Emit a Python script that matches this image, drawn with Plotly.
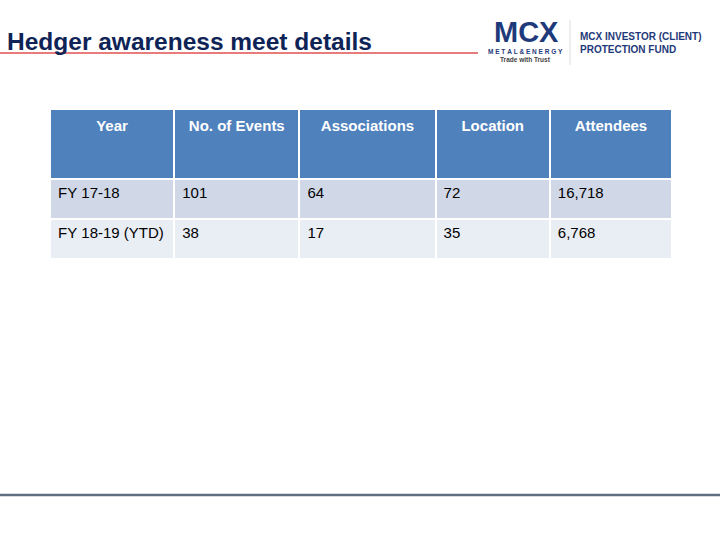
import plotly.graph_objects as go

# table contents
headers = ["Year", "No. of Events", "Associations", "Location", "Attendees"]
years = ["FY 17-18", "FY 18-19 (YTD)"]
events = [101, 38]
associations = [64, 17]
locations = [72, 35]
attendees = ["16,718", "6,768"]

W, H = 720, 540
col_widths = [124, 125, 136, 114, 122]
row_fills = ["#d0d8e8", "#e9edf4"]
font = "Liberation Sans, Arial"
nb = "\u00a0"

fig = go.Figure()

fig.add_trace(go.Table(
    domain=dict(x=[50 / W, 672 / W], y=[1 - 262 / H, 1 - 109 / H]),
    columnwidth=col_widths,
    header=dict(
        values=["<b>%s</b>" % h for h in headers],
        fill_color="#4f81bd",
        line=dict(color="white", width=2),
        align="center",
        height=70,
        font=dict(family=font, size=15, color="white"),
    ),
    cells=dict(
        values=[[y.replace(" ", nb) for y in years], events, associations, locations, attendees],
        fill_color=[row_fills],
        line=dict(color="white", width=2),
        align="left",
        height=40,
        font=dict(family=font, size=15, color="black"),
    ),
))

# title with red underline
fig.add_annotation(x=5 / W, y=1 - 42 / H, xref="paper", yref="paper",
                   text="<b>Hedger awareness meet details</b>", showarrow=False,
                   xanchor="left", yanchor="middle",
                   font=dict(family=font, size=24.5, color="#0e2356"))
fig.add_shape(type="line", xref="paper", yref="paper",
              x0=0, x1=478 / W, y0=1 - 53 / H, y1=1 - 53 / H,
              line=dict(color="#e05050", width=1.5))

# logo block
fig.add_annotation(x=526 / W, y=1 - 32 / H, xref="paper", yref="paper",
                   text="<b>MCX</b>", showarrow=False, xanchor="center", yanchor="middle",
                   borderpad=0, font=dict(family=font, size=29, color="#1f3a7a"))
fig.add_annotation(x=525 / W, y=1 - 51 / H, xref="paper", yref="paper",
                   text="<b>" + nb.join("METAL") + nb + "&amp;" + nb + nb.join("ENERGY") + "</b>",
                   showarrow=False, xanchor="center", yanchor="middle", borderpad=0,
                   font=dict(family=font, size=6.5, color="#1f3a7a"))
fig.add_annotation(x=525 / W, y=1 - 59 / H, xref="paper", yref="paper",
                   text="<b>Trade with Trust</b>", showarrow=False, xanchor="center", yanchor="middle",
                   borderpad=0, font=dict(family=font, size=6.5, color="#444444"))
fig.add_shape(type="line", xref="paper", yref="paper",
              x0=570 / W, x1=570 / W, y0=1 - 65 / H, y1=1 - 20 / H,
              line=dict(color="#dddddd", width=1))
fig.add_annotation(x=578 / W, y=1 - 43 / H, xref="paper", yref="paper",
                   text="<b>MCX INVESTOR (CLIENT)<br>PROTECTION FUND</b>", showarrow=False,
                   xanchor="left", yanchor="middle", align="left",
                   font=dict(family=font, size=10, color="#1f3a7a"))

# bottom rule
fig.add_shape(type="line", xref="paper", yref="paper",
              x0=0, x1=1, y0=1 - 495 / H, y1=1 - 495 / H,
              line=dict(color="#5f6f7f", width=2.5))

fig.update_layout(width=W, height=H, margin=dict(l=0, r=0, t=0, b=0),
                  paper_bgcolor="white", plot_bgcolor="white")

fig.write_html("out.html", config={"displayModeBar": False},
               post_script="document.body.style.margin='0';")
